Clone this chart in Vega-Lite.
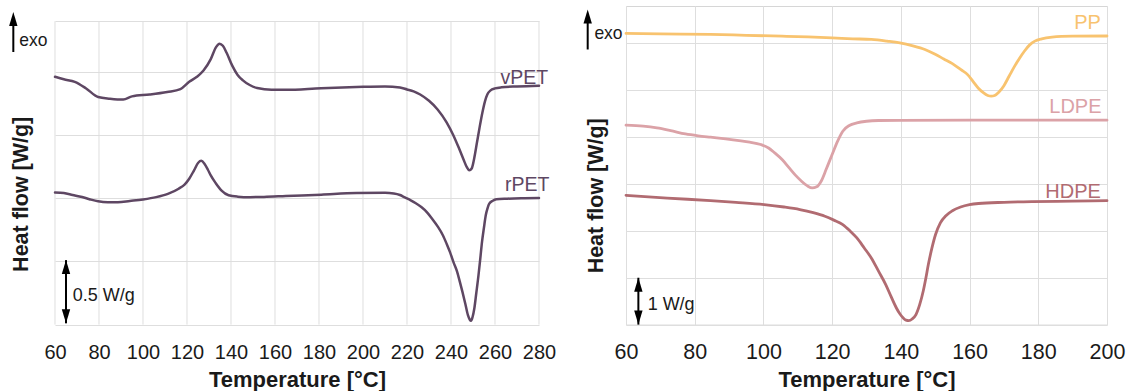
{
  "$schema": "https://vega.github.io/schema/vega-lite/v6.json",
  "padding": {"left": 9, "top": 5, "right": 5, "bottom": 0},
  "spacing": 26,
  "resolve": {"scale": {"color": "independent"}},
  "config": {
    "font": "Liberation Sans",
    "view": {"stroke": "#d6d6d6", "strokeWidth": 1},
    "axis": {"gridColor": "#dedede", "gridWidth": 1, "domain": false, "ticks": false, "labelColor": "#1a1a1a", "titleColor": "#1a1a1a", "labelOverlap": false, "labelFlush": false}
  },
  "datasets": {
    "pet": [
      {"series": "vPET", "T": 60, "hf": 1.96}, {"series": "vPET", "T": 64, "hf": 1.94}, {"series": "vPET", "T": 69, "hf": 1.92},
      {"series": "vPET", "T": 74, "hf": 1.87}, {"series": "vPET", "T": 79.6, "hf": 1.8}, {"series": "vPET", "T": 85, "hf": 1.787},
      {"series": "vPET", "T": 91, "hf": 1.78}, {"series": "vPET", "T": 95, "hf": 1.805}, {"series": "vPET", "T": 103, "hf": 1.82},
      {"series": "vPET", "T": 111, "hf": 1.84}, {"series": "vPET", "T": 117, "hf": 1.862}, {"series": "vPET", "T": 121, "hf": 1.92},
      {"series": "vPET", "T": 124.5, "hf": 1.96}, {"series": "vPET", "T": 127.5, "hf": 2.01}, {"series": "vPET", "T": 130.8, "hf": 2.1},
      {"series": "vPET", "T": 133.2, "hf": 2.195}, {"series": "vPET", "T": 134.8, "hf": 2.222}, {"series": "vPET", "T": 136.3, "hf": 2.205},
      {"series": "vPET", "T": 138, "hf": 2.15}, {"series": "vPET", "T": 140.5, "hf": 2.05}, {"series": "vPET", "T": 143, "hf": 1.975},
      {"series": "vPET", "T": 145.4, "hf": 1.932}, {"series": "vPET", "T": 148.5, "hf": 1.895}, {"series": "vPET", "T": 151.9, "hf": 1.871},
      {"series": "vPET", "T": 158.4, "hf": 1.857}, {"series": "vPET", "T": 165, "hf": 1.857}, {"series": "vPET", "T": 181, "hf": 1.87},
      {"series": "vPET", "T": 197, "hf": 1.879}, {"series": "vPET", "T": 210, "hf": 1.884}, {"series": "vPET", "T": 216.8, "hf": 1.875},
      {"series": "vPET", "T": 220, "hf": 1.86}, {"series": "vPET", "T": 223, "hf": 1.845}, {"series": "vPET", "T": 226, "hf": 1.82},
      {"series": "vPET", "T": 230, "hf": 1.77}, {"series": "vPET", "T": 234, "hf": 1.7}, {"series": "vPET", "T": 238, "hf": 1.6},
      {"series": "vPET", "T": 241, "hf": 1.5}, {"series": "vPET", "T": 243.5, "hf": 1.4}, {"series": "vPET", "T": 245.6, "hf": 1.31},
      {"series": "vPET", "T": 247.2, "hf": 1.245}, {"series": "vPET", "T": 248.3, "hf": 1.22}, {"series": "vPET", "T": 249.4, "hf": 1.235},
      {"series": "vPET", "T": 250.6, "hf": 1.32}, {"series": "vPET", "T": 251.8, "hf": 1.44}, {"series": "vPET", "T": 253, "hf": 1.56},
      {"series": "vPET", "T": 254.3, "hf": 1.68}, {"series": "vPET", "T": 255.5, "hf": 1.77}, {"series": "vPET", "T": 256.5, "hf": 1.82},
      {"series": "vPET", "T": 258, "hf": 1.853}, {"series": "vPET", "T": 260, "hf": 1.868}, {"series": "vPET", "T": 263, "hf": 1.877},
      {"series": "vPET", "T": 270, "hf": 1.884}, {"series": "vPET", "T": 280, "hf": 1.89},
      {"series": "rPET", "T": 60, "hf": 1.045}, {"series": "rPET", "T": 64, "hf": 1.04}, {"series": "rPET", "T": 68, "hf": 1.025},
      {"series": "rPET", "T": 72.3, "hf": 1.009}, {"series": "rPET", "T": 76, "hf": 0.99}, {"series": "rPET", "T": 79.6, "hf": 0.975},
      {"series": "rPET", "T": 84, "hf": 0.968}, {"series": "rPET", "T": 88.6, "hf": 0.968}, {"series": "rPET", "T": 94, "hf": 0.978},
      {"series": "rPET", "T": 100, "hf": 0.99}, {"series": "rPET", "T": 106, "hf": 1.008}, {"series": "rPET", "T": 111.3, "hf": 1.034},
      {"series": "rPET", "T": 116.2, "hf": 1.075}, {"series": "rPET", "T": 119, "hf": 1.11}, {"series": "rPET", "T": 121, "hf": 1.154},
      {"series": "rPET", "T": 123.2, "hf": 1.22}, {"series": "rPET", "T": 125.1, "hf": 1.28}, {"series": "rPET", "T": 126.5, "hf": 1.295},
      {"series": "rPET", "T": 128, "hf": 1.27}, {"series": "rPET", "T": 129.5, "hf": 1.225}, {"series": "rPET", "T": 130.8, "hf": 1.18},
      {"series": "rPET", "T": 133, "hf": 1.12}, {"series": "rPET", "T": 135.6, "hf": 1.062}, {"series": "rPET", "T": 138.9, "hf": 1.023},
      {"series": "rPET", "T": 143, "hf": 1.012}, {"series": "rPET", "T": 148.6, "hf": 1.008}, {"series": "rPET", "T": 155, "hf": 1.01},
      {"series": "rPET", "T": 164.9, "hf": 1.017}, {"series": "rPET", "T": 181, "hf": 1.028}, {"series": "rPET", "T": 197, "hf": 1.04},
      {"series": "rPET", "T": 210, "hf": 1.042}, {"series": "rPET", "T": 214, "hf": 1.037}, {"series": "rPET", "T": 216.8, "hf": 1.025},
      {"series": "rPET", "T": 219, "hf": 1.006}, {"series": "rPET", "T": 221.7, "hf": 0.983}, {"series": "rPET", "T": 224, "hf": 0.96},
      {"series": "rPET", "T": 226.5, "hf": 0.93}, {"series": "rPET", "T": 229, "hf": 0.89}, {"series": "rPET", "T": 231.4, "hf": 0.838},
      {"series": "rPET", "T": 234, "hf": 0.775}, {"series": "rPET", "T": 236.3, "hf": 0.707}, {"series": "rPET", "T": 238, "hf": 0.64},
      {"series": "rPET", "T": 239.5, "hf": 0.575}, {"series": "rPET", "T": 241.2, "hf": 0.49}, {"series": "rPET", "T": 242.8, "hf": 0.417},
      {"series": "rPET", "T": 244, "hf": 0.34}, {"series": "rPET", "T": 245.2, "hf": 0.259}, {"series": "rPET", "T": 246.5, "hf": 0.165},
      {"series": "rPET", "T": 247.7, "hf": 0.074}, {"series": "rPET", "T": 248.5, "hf": 0.04}, {"series": "rPET", "T": 249.1, "hf": 0.03},
      {"series": "rPET", "T": 249.8, "hf": 0.06}, {"series": "rPET", "T": 250.6, "hf": 0.127}, {"series": "rPET", "T": 251.5, "hf": 0.25},
      {"series": "rPET", "T": 252.5, "hf": 0.391}, {"series": "rPET", "T": 253.3, "hf": 0.52}, {"series": "rPET", "T": 254.1, "hf": 0.654},
      {"series": "rPET", "T": 255, "hf": 0.77}, {"series": "rPET", "T": 255.8, "hf": 0.865}, {"series": "rPET", "T": 256.6, "hf": 0.92},
      {"series": "rPET", "T": 257.4, "hf": 0.957}, {"series": "rPET", "T": 259, "hf": 0.98}, {"series": "rPET", "T": 260.6, "hf": 0.991},
      {"series": "rPET", "T": 265.5, "hf": 0.996}, {"series": "rPET", "T": 272, "hf": 1.0}, {"series": "rPET", "T": 280, "hf": 1.002}
    ],
    "petLabels": [
      {"series": "vPET", "T": 284.2, "hf": 1.905},
      {"series": "rPET", "T": 284.7, "hf": 1.055}
    ],
    "petTicks": [
      {"T": 60}, {"T": 80}, {"T": 100}, {"T": 120}, {"T": 140}, {"T": 160},
      {"T": 180}, {"T": 200}, {"T": 220}, {"T": 240}, {"T": 260}, {"T": 280}
    ],
    "poly": [
      {"series": "PP", "T": 60, "hf": 6.214}, {"series": "PP", "T": 70, "hf": 6.205}, {"series": "PP", "T": 84.6, "hf": 6.193},
      {"series": "PP", "T": 95, "hf": 6.175}, {"series": "PP", "T": 105.4, "hf": 6.156}, {"series": "PP", "T": 113, "hf": 6.14},
      {"series": "PP", "T": 120, "hf": 6.12}, {"series": "PP", "T": 126, "hf": 6.1}, {"series": "PP", "T": 131.4, "hf": 6.086},
      {"series": "PP", "T": 136, "hf": 6.05}, {"series": "PP", "T": 139.7, "hf": 6.013}, {"series": "PP", "T": 143.5, "hf": 5.95},
      {"series": "PP", "T": 147, "hf": 5.872}, {"series": "PP", "T": 150, "hf": 5.77}, {"series": "PP", "T": 152.5, "hf": 5.67},
      {"series": "PP", "T": 155, "hf": 5.57}, {"series": "PP", "T": 157.5, "hf": 5.44}, {"series": "PP", "T": 159.5, "hf": 5.33},
      {"series": "PP", "T": 161, "hf": 5.19}, {"series": "PP", "T": 162.5, "hf": 5.05}, {"series": "PP", "T": 164, "hf": 4.95},
      {"series": "PP", "T": 165.3, "hf": 4.89}, {"series": "PP", "T": 166.3, "hf": 4.875}, {"series": "PP", "T": 167.3, "hf": 4.89},
      {"series": "PP", "T": 168.5, "hf": 4.96}, {"series": "PP", "T": 170, "hf": 5.1}, {"series": "PP", "T": 171.5, "hf": 5.3},
      {"series": "PP", "T": 173, "hf": 5.5}, {"series": "PP", "T": 174.5, "hf": 5.68}, {"series": "PP", "T": 176, "hf": 5.84},
      {"series": "PP", "T": 177.5, "hf": 5.97}, {"series": "PP", "T": 179, "hf": 6.05}, {"series": "PP", "T": 181, "hf": 6.1},
      {"series": "PP", "T": 184, "hf": 6.135}, {"series": "PP", "T": 190, "hf": 6.155}, {"series": "PP", "T": 200, "hf": 6.16},
      {"series": "LDPE", "T": 60, "hf": 4.256}, {"series": "LDPE", "T": 65, "hf": 4.235}, {"series": "LDPE", "T": 69, "hf": 4.198},
      {"series": "LDPE", "T": 73, "hf": 4.14}, {"series": "LDPE", "T": 77.3, "hf": 4.07}, {"series": "LDPE", "T": 81, "hf": 4.03},
      {"series": "LDPE", "T": 84.6, "hf": 4.0}, {"series": "LDPE", "T": 89, "hf": 3.965}, {"series": "LDPE", "T": 92.9, "hf": 3.929},
      {"series": "LDPE", "T": 96, "hf": 3.895}, {"series": "LDPE", "T": 99.2, "hf": 3.844}, {"series": "LDPE", "T": 101.5, "hf": 3.77},
      {"series": "LDPE", "T": 103.3, "hf": 3.664}, {"series": "LDPE", "T": 105.5, "hf": 3.52}, {"series": "LDPE", "T": 107.5, "hf": 3.344},
      {"series": "LDPE", "T": 109.3, "hf": 3.19}, {"series": "LDPE", "T": 111.1, "hf": 3.06}, {"series": "LDPE", "T": 112.8, "hf": 2.96},
      {"series": "LDPE", "T": 114.2, "hf": 2.917}, {"series": "LDPE", "T": 115.5, "hf": 2.94}, {"series": "LDPE", "T": 116.8, "hf": 3.06},
      {"series": "LDPE", "T": 118.3, "hf": 3.32}, {"series": "LDPE", "T": 120, "hf": 3.63}, {"series": "LDPE", "T": 121.5, "hf": 3.9},
      {"series": "LDPE", "T": 123.1, "hf": 4.128}, {"series": "LDPE", "T": 125, "hf": 4.25}, {"series": "LDPE", "T": 127.2, "hf": 4.305},
      {"series": "LDPE", "T": 130, "hf": 4.34}, {"series": "LDPE", "T": 133.5, "hf": 4.356}, {"series": "LDPE", "T": 140, "hf": 4.36},
      {"series": "LDPE", "T": 160, "hf": 4.363}, {"series": "LDPE", "T": 200, "hf": 4.363},
      {"series": "HDPE", "T": 60, "hf": 2.76}, {"series": "HDPE", "T": 72, "hf": 2.7}, {"series": "HDPE", "T": 84.6, "hf": 2.648},
      {"series": "HDPE", "T": 92, "hf": 2.61}, {"series": "HDPE", "T": 100.2, "hf": 2.562}, {"series": "HDPE", "T": 106, "hf": 2.51},
      {"series": "HDPE", "T": 110.6, "hf": 2.456}, {"series": "HDPE", "T": 114.5, "hf": 2.39}, {"series": "HDPE", "T": 117.9, "hf": 2.313},
      {"series": "HDPE", "T": 120.5, "hf": 2.23}, {"series": "HDPE", "T": 123.1, "hf": 2.135}, {"series": "HDPE", "T": 125.2, "hf": 2.0},
      {"series": "HDPE", "T": 127.2, "hf": 1.849}, {"series": "HDPE", "T": 129.3, "hf": 1.64}, {"series": "HDPE", "T": 131.4, "hf": 1.422},
      {"series": "HDPE", "T": 133.5, "hf": 1.14}, {"series": "HDPE", "T": 135.6, "hf": 0.854}, {"series": "HDPE", "T": 137.2, "hf": 0.59},
      {"series": "HDPE", "T": 138.7, "hf": 0.354}, {"series": "HDPE", "T": 139.8, "hf": 0.22}, {"series": "HDPE", "T": 140.7, "hf": 0.141},
      {"series": "HDPE", "T": 141.5, "hf": 0.095}, {"series": "HDPE", "T": 142.3, "hf": 0.085}, {"series": "HDPE", "T": 143.3, "hf": 0.12},
      {"series": "HDPE", "T": 144.4, "hf": 0.214}, {"series": "HDPE", "T": 145.5, "hf": 0.43}, {"series": "HDPE", "T": 146.5, "hf": 0.711},
      {"series": "HDPE", "T": 147.3, "hf": 1.0}, {"series": "HDPE", "T": 148, "hf": 1.281}, {"series": "HDPE", "T": 149, "hf": 1.62},
      {"series": "HDPE", "T": 150.1, "hf": 1.922}, {"series": "HDPE", "T": 151.5, "hf": 2.17}, {"series": "HDPE", "T": 153.2, "hf": 2.33},
      {"series": "HDPE", "T": 155, "hf": 2.43}, {"series": "HDPE", "T": 157.4, "hf": 2.51}, {"series": "HDPE", "T": 160, "hf": 2.56},
      {"series": "HDPE", "T": 162.6, "hf": 2.585}, {"series": "HDPE", "T": 170, "hf": 2.61}, {"series": "HDPE", "T": 178.2, "hf": 2.625},
      {"series": "HDPE", "T": 190, "hf": 2.635}, {"series": "HDPE", "T": 200, "hf": 2.645}
    ],
    "polyLabels": [
      {"series": "PP", "T": 198.2, "hf": 6.299},
      {"series": "LDPE", "T": 198.4, "hf": 4.506},
      {"series": "HDPE", "T": 198.2, "hf": 2.703}
    ],
    "one": [{}]
  },
  "hconcat": [
    {
      "width": 484,
      "height": 318.6,
      "view": {"stroke": null},
      "layer": [
        {
          "data": {"name": "petTicks"},
          "mark": {"type": "rule", "color": "#dedede", "strokeWidth": 1},
          "encoding": {
            "x": {"field": "T", "type": "quantitative"},
            "y": {"datum": 0, "type": "quantitative"},
            "y2": {"datum": 2.4}
          }
        },
        {
          "data": {"name": "pet"},
          "mark": {"type": "line", "interpolate": "monotone", "strokeWidth": 2.5, "strokeCap": "round"},
          "encoding": {
            "x": {
              "field": "T", "type": "quantitative",
              "scale": {"domain": [60, 280], "nice": false, "zero": false},
              "axis": {
                "values": [60, 80, 100, 120, 140, 160, 180, 200, 220, 240, 260, 280],
                "grid": false, "title": "Temperature [°C]", "labelFontSize": 20, "labelBaseline": "alphabetic",
                "labelPadding": 33.5, "titleFontSize": 22, "titleFontWeight": "bold", "titleBaseline": "alphabetic", "titleY": 61.5
              }
            },
            "y": {
              "field": "hf", "type": "quantitative",
              "scale": {"domain": [0, 2.52], "nice": false, "zero": false},
              "axis": {
                "values": [0, 0.5, 1, 1.5, 2, 2.4], "labels": false, "grid": true, "title": "Heat flow [W/g]",
                "titleFontSize": 21.5, "titleFontWeight": "bold", "titleBaseline": "alphabetic", "titleX": -28, "titleY": 187.8
              }
            },
            "color": {"field": "series", "type": "nominal", "scale": {"domain": ["vPET", "rPET"], "range": ["#5e4763", "#5e4763"]}, "legend": null}
          }
        },
        {
          "data": {"name": "petLabels"},
          "mark": {"type": "text", "align": "right", "baseline": "alphabetic", "fontSize": 19.5},
          "encoding": {
            "x": {"field": "T", "type": "quantitative"},
            "y": {"field": "hf", "type": "quantitative"},
            "text": {"field": "series"},
            "color": {"field": "series", "type": "nominal", "scale": {"domain": ["vPET", "rPET"], "range": ["#5e4763", "#5e4763"]}, "legend": null}
          }
        },
        {
          "data": {"name": "one"},
          "mark": {"type": "rule", "strokeWidth": 2, "color": "#000"},
          "encoding": {
            "x": {"datum": 41.05, "type": "quantitative"},
            "y": {"datum": 2.156, "type": "quantitative"},
            "y2": {"datum": 2.4}
          }
        },
        {
          "data": {"name": "one"},
          "mark": {"type": "point", "shape": "M0,0L0.6,2L-0.6,2Z", "filled": true, "size": 196, "color": "#000", "opacity": 1},
          "encoding": {
            "x": {"datum": 41.05, "type": "quantitative"},
            "y": {"datum": 2.472, "type": "quantitative"}
          }
        },
        {
          "data": {"name": "one"},
          "mark": {"type": "text", "align": "left", "baseline": "alphabetic", "fontSize": 17.5, "color": "#1a1a1a"},
          "encoding": {
            "x": {"datum": 43.8, "type": "quantitative"},
            "y": {"datum": 2.203, "type": "quantitative"},
            "text": {"value": "exo"}
          }
        },
        {
          "data": {"name": "one"},
          "mark": {"type": "rule", "strokeWidth": 2, "color": "#000"},
          "encoding": {
            "x": {"datum": 65, "type": "quantitative"},
            "y": {"datum": 0.01, "type": "quantitative"},
            "y2": {"datum": 0.51}
          }
        },
        {
          "data": {"name": "one"},
          "mark": {"type": "point", "shape": "M0,0L0.6,2L-0.6,2Z", "filled": true, "size": 196, "color": "#000", "opacity": 1},
          "encoding": {
            "x": {"datum": 65, "type": "quantitative"},
            "y": {"datum": 0.51, "type": "quantitative"}
          }
        },
        {
          "data": {"name": "one"},
          "mark": {"type": "point", "shape": "M0,0L0.6,-2L-0.6,-2Z", "filled": true, "size": 196, "color": "#000", "opacity": 1},
          "encoding": {
            "x": {"datum": 65, "type": "quantitative"},
            "y": {"datum": 0.01, "type": "quantitative"}
          }
        },
        {
          "data": {"name": "one"},
          "mark": {"type": "text", "align": "left", "baseline": "alphabetic", "fontSize": 18, "color": "#1a1a1a"},
          "encoding": {
            "x": {"datum": 68.05, "type": "quantitative"},
            "y": {"datum": 0.185, "type": "quantitative"},
            "text": {"value": "0.5 W/g"}
          }
        }
      ]
    },
    {
      "width": 481,
      "height": 318.6,
      "layer": [
        {
          "data": {"name": "poly"},
          "mark": {"type": "line", "interpolate": "monotone", "strokeWidth": 2.8, "strokeCap": "round"},
          "encoding": {
            "x": {
              "field": "T", "type": "quantitative",
              "scale": {"domain": [60, 200], "nice": false, "zero": false},
              "axis": {
                "values": [60, 80, 100, 120, 140, 160, 180, 200],
                "grid": true, "title": "Temperature [°C]", "labelFontSize": 21.5, "labelBaseline": "alphabetic",
                "labelPadding": 33.5, "titleFontSize": 22, "titleFontWeight": "bold", "titleBaseline": "alphabetic", "titleY": 61.5
              }
            },
            "y": {
              "field": "hf", "type": "quantitative",
              "scale": {"domain": [0, 6.8], "nice": false, "zero": false},
              "axis": {
                "values": [0, 1, 2, 3, 4, 5, 6], "labels": false, "grid": true, "title": "Heat flow [W/g]",
                "titleFontSize": 21.5, "titleFontWeight": "bold", "titleBaseline": "alphabetic", "titleX": -23.3, "titleY": 189.3
              }
            },
            "color": {"field": "series", "type": "nominal", "scale": {"domain": ["PP", "LDPE", "HDPE"], "range": ["#f8c36f", "#dba2a7", "#b16b71"]}, "legend": null}
          }
        },
        {
          "data": {"name": "polyLabels"},
          "mark": {"type": "text", "align": "right", "baseline": "alphabetic", "fontSize": 20},
          "encoding": {
            "x": {"field": "T", "type": "quantitative"},
            "y": {"field": "hf", "type": "quantitative"},
            "text": {"field": "series"},
            "color": {"field": "series", "type": "nominal", "scale": {"domain": ["PP", "LDPE", "HDPE"], "range": ["#f5c27a", "#d7a3a8", "#a9646b"]}, "legend": null}
          }
        },
        {
          "data": {"name": "one"},
          "mark": {"type": "rule", "strokeWidth": 2, "color": "#000"},
          "encoding": {
            "x": {"datum": 48.85, "type": "quantitative"},
            "y": {"datum": 5.872, "type": "quantitative"},
            "y2": {"datum": 6.6}
          }
        },
        {
          "data": {"name": "one"},
          "mark": {"type": "point", "shape": "M0,0L0.6,2L-0.6,2Z", "filled": true, "size": 196, "color": "#000", "opacity": 1},
          "encoding": {
            "x": {"datum": 48.85, "type": "quantitative"},
            "y": {"datum": 6.726, "type": "quantitative"}
          }
        },
        {
          "data": {"name": "one"},
          "mark": {"type": "text", "align": "left", "baseline": "alphabetic", "fontSize": 17.5, "color": "#1a1a1a"},
          "encoding": {
            "x": {"datum": 50.8, "type": "quantitative"},
            "y": {"datum": 6.086, "type": "quantitative"},
            "text": {"value": "exo"}
          }
        },
        {
          "data": {"name": "one"},
          "mark": {"type": "rule", "strokeWidth": 2, "color": "#000"},
          "encoding": {
            "x": {"datum": 63.6, "type": "quantitative"},
            "y": {"datum": 0.0, "type": "quantitative"},
            "y2": {"datum": 1.0}
          }
        },
        {
          "data": {"name": "one"},
          "mark": {"type": "point", "shape": "M0,0L0.6,2L-0.6,2Z", "filled": true, "size": 196, "color": "#000", "opacity": 1},
          "encoding": {
            "x": {"datum": 63.6, "type": "quantitative"},
            "y": {"datum": 1.0, "type": "quantitative"}
          }
        },
        {
          "data": {"name": "one"},
          "mark": {"type": "point", "shape": "M0,0L0.6,-2L-0.6,-2Z", "filled": true, "size": 196, "color": "#000", "opacity": 1},
          "encoding": {
            "x": {"datum": 63.6, "type": "quantitative"},
            "y": {"datum": 0.0, "type": "quantitative"}
          }
        },
        {
          "data": {"name": "one"},
          "mark": {"type": "text", "align": "left", "baseline": "alphabetic", "fontSize": 18, "color": "#1a1a1a"},
          "encoding": {
            "x": {"datum": 66.3, "type": "quantitative"},
            "y": {"datum": 0.32, "type": "quantitative"},
            "text": {"value": "1 W/g"}
          }
        }
      ]
    }
  ]
}
